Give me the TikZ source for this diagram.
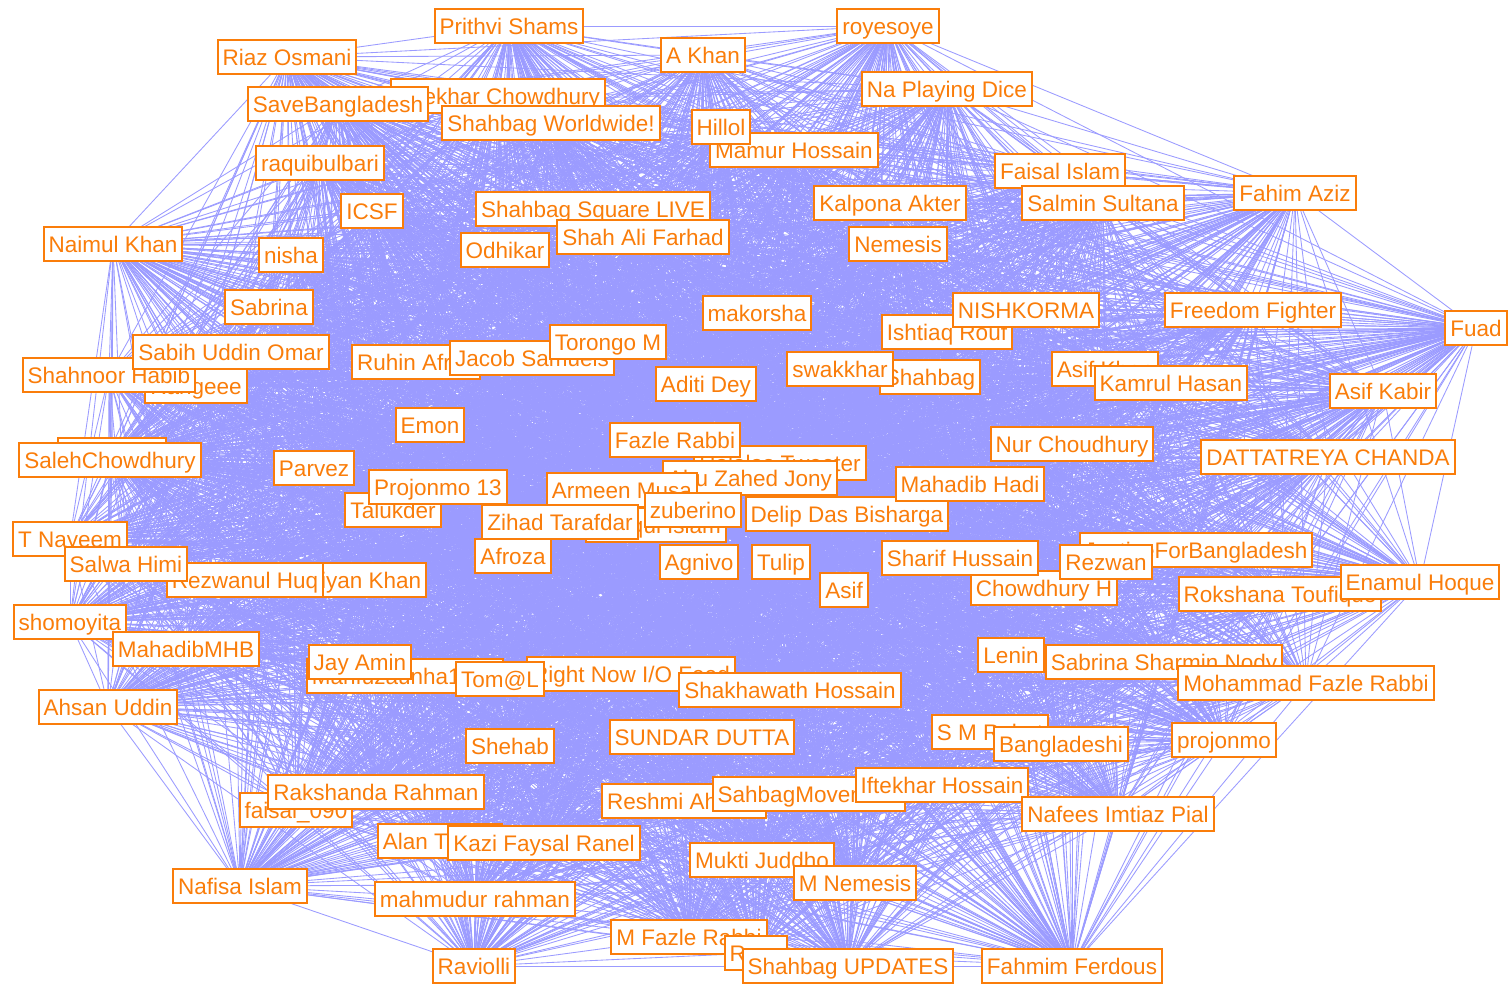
\documentclass[tikz,border=0pt]{standalone}
\usepackage{fontspec}
\setmainfont{Liberation Sans}
\usetikzlibrary{backgrounds}
\definecolor{orng}{RGB}{250,125,10}
\definecolor{lav}{RGB}{155,155,255}
\tikzset{
  nd/.style={draw=orng, fill=white, text=orng, line width=2pt, inner xsep=5pt, inner ysep=0pt,
    text height=20.5pt, text depth=3.5pt, minimum height=34pt, font=\fontsize{22.5}{24}\selectfont},
  edge/.style={draw=lav, line width=0.85pt}
}
\begin{document}
\begin{tikzpicture}[x=1pt,y=-1pt]
\useasboundingbox (0,0) rectangle (1511,986);
\node[nd] (n1) at (509,26) {Prithvi Shams};
\node[nd] (n2) at (888,26) {royesoye};
\node[nd] (n3) at (287,57) {Riaz Osmani};
\node[nd] (n4) at (703,55) {A Khan};
\node[nd] (n5) at (498,96) {Shekhar Chowdhury};
\node[nd] (n6) at (338,104) {SaveBangladesh};
\node[nd] (n7) at (551,123) {Shahbag Worldwide!};
\node[nd] (n8) at (947,89) {Na Playing Dice};
\node[nd] (n9) at (794,150) {Mamur Hossain};
\node[nd] (n10) at (721,127) {Hillol};
\node[nd] (n11) at (320,163) {raquibulbari};
\node[nd] (n12) at (372,211) {ICSF};
\node[nd] (n13) at (593,209) {Shahbag Square LIVE};
\node[nd] (n14) at (643,237) {Shah Ali Farhad};
\node[nd] (n15) at (505,250) {Odhikar};
\node[nd] (n16) at (1060,171) {Faisal Islam};
\node[nd] (n17) at (1103,203) {Salmin Sultana};
\node[nd] (n18) at (890,203) {Kalpona Akter};
\node[nd] (n19) at (1295,193) {Fahim Aziz};
\node[nd] (n20) at (898,244) {Nemesis};
\node[nd] (n21) at (113,244) {Naimul Khan};
\node[nd] (n22) at (291,255) {nisha};
\node[nd] (n23) at (269,307) {Sabrina};
\node[nd] (n24) at (757,313) {makorsha};
\node[nd] (n25) at (947,332) {Ishtiaq Rouf};
\node[nd] (n26) at (1026,310) {NISHKORMA};
\node[nd] (n27) at (1253,310) {Freedom Fighter};
\node[nd] (n28) at (1476,328) {Fuad};
\node[nd] (n29) at (196,386) {Rangeee};
\node[nd] (n30) at (109,375) {Shahnoor Habib};
\node[nd] (n31) at (231,352) {Sabih Uddin Omar};
\node[nd] (n32) at (416,362) {Ruhin Afroz};
\node[nd] (n33) at (532,358) {Jacob Samuels};
\node[nd] (n34) at (608,342) {Torongo M};
\node[nd] (n35) at (706,384) {Aditi Dey};
\node[nd] (n36) at (930,377) {Shahbag};
\node[nd] (n37) at (840,369) {swakkhar};
\node[nd] (n38) at (1105,369) {Asif Khan};
\node[nd] (n39) at (1171,383) {Kamrul Hasan};
\node[nd] (n40) at (1383,391) {Asif Kabir};
\node[nd] (n41) at (430,425) {Emon};
\node[nd] (n42) at (780,463) {Halalas Tweeter};
\node[nd] (n43) at (675,440) {Fazle Rabbi};
\node[nd] (n44) at (1072,444) {Nur Choudhury};
\node[nd] (n45) at (1328,457) {DATTATREYA CHANDA};
\node[nd] (n46) at (112,455) {Arif Jebtik};
\node[nd] (n47) at (110,460) {SalehChowdhury};
\node[nd] (n48) at (314,468) {Parvez};
\node[nd] (n49) at (393,510) {Talukder};
\node[nd] (n50) at (438,487) {Projonmo 13};
\node[nd] (n51) at (750,478) {Abu Zahed Jony};
\node[nd] (n52) at (622,490) {Armeen Musa};
\node[nd] (n53) at (656,525) {Rafiqul Islam};
\node[nd] (n54) at (560,522) {Zihad Tarafdar};
\node[nd] (n55) at (693,510) {zuberino};
\node[nd] (n56) at (847,514) {Delip Das Bisharga};
\node[nd] (n57) at (970,484) {Mahadib Hadi};
\node[nd] (n58) at (513,556) {Afroza};
\node[nd] (n59) at (699,562) {Agnivo};
\node[nd] (n60) at (781,562) {Tulip};
\node[nd] (n61) at (844,590) {Asif};
\node[nd] (n62) at (1044,588) {Chowdhury H};
\node[nd] (n63) at (960,558) {Sharif Hussain};
\node[nd] (n64) at (1196,550) {JusticeForBangladesh};
\node[nd] (n65) at (1106,562) {Rezwan};
\node[nd] (n66) at (1280,594) {Rokshana Toufique};
\node[nd] (n67) at (1420,582) {Enamul Hoque};
\node[nd] (n68) at (363,580) {Riyan Khan};
\node[nd] (n69) at (245,580) {Rezwanul Huq};
\node[nd] (n70) at (70,539) {T Nayeem};
\node[nd] (n71) at (126,564) {Salwa Himi};
\node[nd] (n72) at (70,622) {shomoyita};
\node[nd] (n73) at (186,649) {MahadibMHB};
\node[nd] (n74) at (405,676) {Mahfuzaunha1971};
\node[nd] (n75) at (360,662) {Jay Amin};
\node[nd] (n76) at (631,674) {Right Now I/O Feed};
\node[nd] (n77) at (500,679) {Tom@L};
\node[nd] (n78) at (790,690) {Shakhawath Hossain};
\node[nd] (n79) at (108,707) {Ahsan Uddin};
\node[nd] (n80) at (510,746) {Shehab};
\node[nd] (n81) at (702,737) {SUNDAR DUTTA};
\node[nd] (n82) at (1164,662) {Sabrina Sharmin Nody};
\node[nd] (n83) at (1011,655) {Lenin};
\node[nd] (n84) at (1306,683) {Mohammad Fazle Rabbi};
\node[nd] (n85) at (990,732) {S M Rahat};
\node[nd] (n86) at (1061,744) {Bangladeshi};
\node[nd] (n87) at (1224,740) {projonmo};
\node[nd] (n88) at (684,801) {Reshmi Ahmed};
\node[nd] (n89) at (809,794) {SahbagMovement};
\node[nd] (n90) at (942,785) {Iftekhar Hossain};
\node[nd] (n91) at (1118,814) {Nafees Imtiaz Pial};
\node[nd] (n92) at (296,810) {faisal\_090};
\node[nd] (n93) at (376,792) {Rakshanda Rahman};
\node[nd] (n94) at (440,841) {Alan Turing};
\node[nd] (n95) at (544,843) {Kazi Faysal Ranel};
\node[nd] (n96) at (762,860) {Mukti Juddho};
\node[nd] (n97) at (855,883) {M Nemesis};
\node[nd] (n98) at (240,886) {Nafisa Islam};
\node[nd] (n99) at (475,899) {mahmudur rahman};
\node[nd] (n100) at (689,937) {M Fazle Rabbi};
\node[nd] (n101) at (756,953) {Rony};
\node[nd] (n102) at (848,966) {Shahbag UPDATES};
\node[nd] (n103) at (1072,966) {Fahmim Ferdous};
\node[nd] (n104) at (474,966) {Raviolli};
\begin{pgfonlayer}{background}
\fill[white] (0,0) rectangle (1511,986);
\foreach \i in {1,...,104}{
  \foreach \j in {1,...,104}{
    \ifnum\j>\i \draw[edge] (n\i.center) -- (n\j.center);\fi
  }
}
\end{pgfonlayer}
\end{tikzpicture}
\end{document}
